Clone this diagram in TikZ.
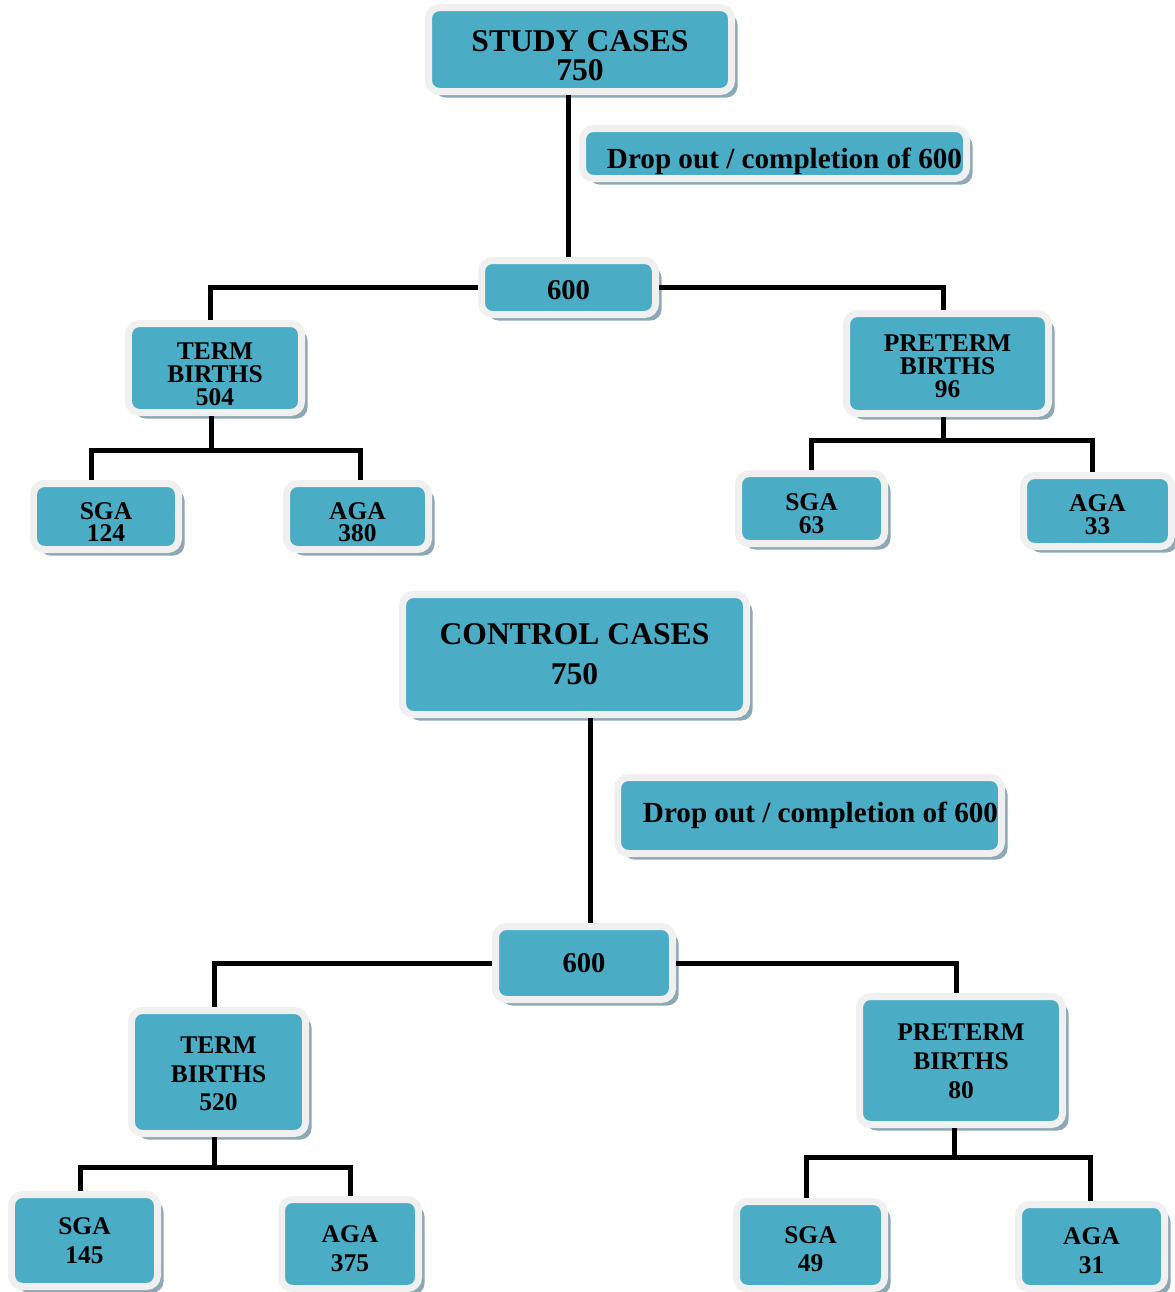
\documentclass[tikz,border=0pt]{standalone}
\usepackage{fontspec}
\setmainfont{Liberation Serif}
\usepackage{tikz}
\usetikzlibrary{calc,shadows}
\definecolor{caseblue}{RGB}{75,172,198}
\definecolor{caserim}{RGB}{240,240,240}
\definecolor{caseshade}{RGB}{140,168,180}

\begin{document}
\begin{tikzpicture}[x=0.02cm,y=-0.02cm,
  case/.style={draw=caserim, line width=0.14cm, fill=caseblue, rounded corners=0.22cm, align=center,
    drop shadow={shadow xshift=0.12cm, shadow yshift=-0.12cm, fill=caseshade, opacity=1}},
  dims/.style 2 args={minimum width=#1*0.02cm-0.14cm, minimum height=#2*0.02cm-0.14cm, inner sep=0pt},
  tall/.style={text height=#1},
  title/.style={font=\fontsize{18}{#1}\selectfont\bfseries},
  tight/.style={font=\fontsize{14.5}{13}\selectfont\bfseries},
  loose/.style={font=\fontsize{14.5}{16.3}\selectfont\bfseries},
  total/.style={font=\fontsize{16.3}{18}\selectfont\bfseries},
  drop/.style={font=\fontsize{16.6}{18}\selectfont\bfseries},
  link/.style={line width=0.1cm}]
\useasboundingbox (0,0) rectangle (1175,1292);

\node[case,dims={310}{91},title=17,tall=36pt] (study) at (580,49.5) {STUDY CASES\\750};
\node[case,dims={391}{57},drop,text depth=0pt,tall=17pt] (drop1) at (774.5,153.5) {\hspace*{0.4cm}Drop out / completion of 600};
\node[case,dims={181}{61},total,tall=14pt] (mid1) at (568.5,287.5) {600};
\node[case,dims={180}{96},tight,tall=43pt] (term1) at (215,368) {TERM\\BIRTHS\\504};
\node[case,dims={209}{107},tight,tall=39pt] (pre1) at (947.5,363.5) {PRETERM\\BIRTHS\\96};
\node[case,dims={152}{73},tight,tall=29pt] (sga1) at (106,516.5) {SGA\\124};
\node[case,dims={149}{73},tight,tall=29pt] (aga1) at (357.5,516.5) {AGA\\380};
\node[case,dims={153}{77},tight,tall=28.3pt] (sga2) at (811.5,508.5) {SGA\\63};
\node[case,dims={155}{78},tight,tall=27.2pt] (aga2) at (1097.5,511) {AGA\\33};

\draw[link] (mid1.north) -- (mid1.north |- study.south);
\draw[link] (mid1.west) -| ($(term1.north)+(-5,0)$);
\draw[link] (mid1.east) -| ($(pre1.north)+(-4.5,0)$);
\coordinate (j1) at (211,450);
\draw[link] (term1.south -| j1) -- (j1);
\draw[link] ($(sga1.north)+(-15,0)$) |- (j1) -| ($(aga1.north)+(2.5,0)$);
\coordinate (j2) at (943,440);
\draw[link] (pre1.south -| j2) -- (j2);
\draw[link] (sga2.north) |- (j2) -| ($(aga2.north)+(-5.5,0)$);

\node[case,dims={351}{127},title=22.7] (control) at (574.5,654.5) {CONTROL CASES\\750};
\node[case,dims={391}{83},drop] (drop2) at (809.5,815.5) {\hspace*{0.44cm}Drop out / completion of 600};
\node[case,dims={184}{80},total] (mid2) at (584,963) {600};
\node[case,dims={181}{130},loose,tall=44.4pt] (term2) at (218.5,1072) {TERM\\BIRTHS\\520};
\node[case,dims={210}{135},loose,tall=43pt] (pre2) at (961,1060.5) {PRETERM\\BIRTHS\\80};
\node[case,dims={153}{99},loose] (sga3) at (84.5,1240.5) {SGA\\145};
\node[case,dims={144}{96},loose,tall=31pt] (aga3) at (350,1244) {AGA\\375};
\node[case,dims={155}{94},loose,tall=30.5pt] (sga4) at (810.5,1245) {SGA\\49};
\node[case,dims={153}{91},loose,tall=31pt] (aga4) at (1091.5,1246.5) {AGA\\31};

\draw[link] ($(mid2.north)+(6,0)$) -- ($(mid2.north |- control.south)+(6,0)$);
\draw[link] (mid2.west) -| ($(term2.north)+(-4.5,0)$);
\draw[link] (mid2.east) -| ($(pre2.north)+(-5,0)$);
\coordinate (j3) at (214,1167);
\draw[link] (term2.south -| j3) -- (j3);
\draw[link] ($(sga3.north)+(-4.5,0)$) |- (j3) -| (aga3.north);
\coordinate (j4) at (954,1157);
\draw[link] (pre2.south -| j4) -- (j4);
\draw[link] ($(sga4.north)+(-4.5,0)$) |- (j4) -| ($(aga4.north)+(-1.5,0)$);
\end{tikzpicture}
\end{document}
